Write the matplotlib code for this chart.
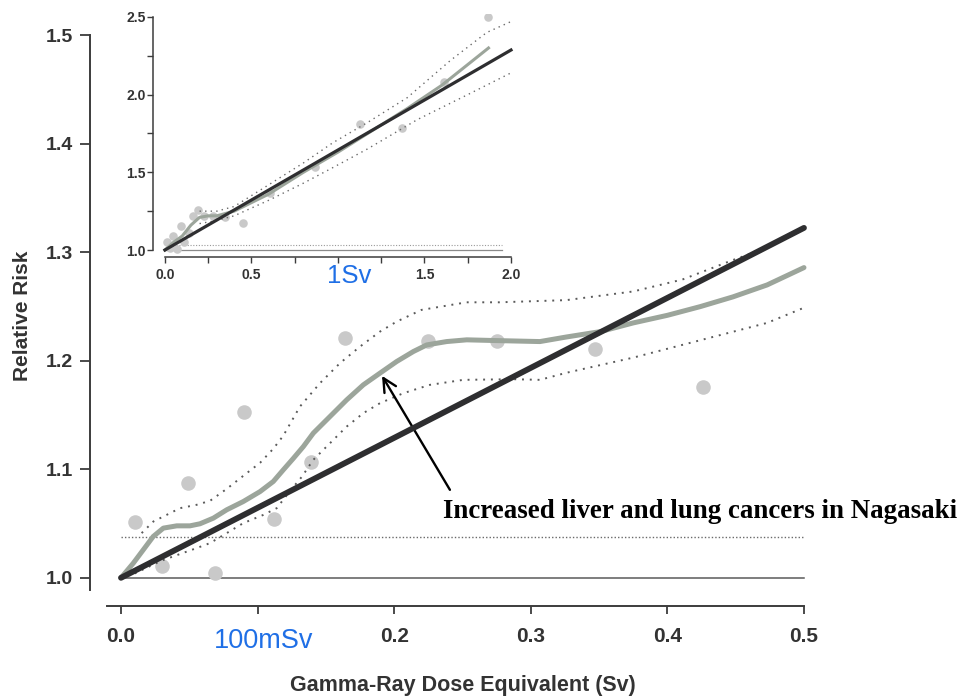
import matplotlib
matplotlib.use("Agg")
import matplotlib.pyplot as plt
from matplotlib.ticker import MultipleLocator

# main panel (0 - 0.5 Sv)
dose_pts = [0.010, 0.030, 0.049, 0.069, 0.090, 0.112, 0.139, 0.164, 0.225, 0.275, 0.347, 0.426]
rr_pts = [1.051, 1.011, 1.087, 1.004, 1.153, 1.054, 1.107, 1.221, 1.218, 1.218, 1.211, 1.176]

lin_x = [0.0, 0.5]
lin_y = [1.0, 1.3226]

fit_x = [0.0, 0.009, 0.0163, 0.0236, 0.031, 0.0408, 0.0505, 0.0578, 0.0676, 0.0774, 0.0895,
         0.1018, 0.1115, 0.1188, 0.1261, 0.1335, 0.1408, 0.153, 0.1652, 0.1774, 0.1896, 0.2018,
         0.214, 0.2238, 0.2384, 0.2531, 0.275, 0.3067, 0.326, 0.351, 0.375, 0.400, 0.424,
         0.448, 0.473, 0.5]
fit_y = [1.0, 1.0135, 1.0258, 1.0381, 1.0458, 1.0479, 1.0479, 1.0498, 1.055, 1.0627, 1.0703,
         1.0795, 1.0888, 1.0995, 1.110, 1.121, 1.1334, 1.1487, 1.164, 1.1779, 1.1887, 1.1994,
         1.2086, 1.2147, 1.2178, 1.2194, 1.2187, 1.2178, 1.222, 1.227, 1.235, 1.242, 1.250,
         1.259, 1.270, 1.286]

up_x = [0.0151, 0.0237, 0.0334, 0.0432, 0.0554, 0.0652, 0.0774, 0.0895, 0.1018, 0.1115, 0.1188,
        0.131, 0.1457, 0.1603, 0.175, 0.1896, 0.2018, 0.22, 0.253, 0.277, 0.326, 0.375, 0.411,
        0.448, 0.468, 0.5]
up_y = [1.0412, 1.0519, 1.058, 1.0642, 1.0673, 1.071, 1.082, 1.094, 1.106, 1.119, 1.131,
        1.1579, 1.1795, 1.1979, 1.2132, 1.227, 1.2362, 1.247, 1.254, 1.254, 1.256, 1.264, 1.275,
        1.293, 1.302, 1.322]

lo_x = [0.010, 0.030, 0.0554, 0.0652, 0.0774, 0.0895, 0.1042, 0.114, 0.1237, 0.1323, 0.1408,
        0.153, 0.1652, 0.1774, 0.1896, 0.2067, 0.2262, 0.2506, 0.2872, 0.3067, 0.326, 0.375,
        0.424, 0.473, 0.5]
lo_y = [1.004, 1.016, 1.0274, 1.032, 1.0412, 1.0504, 1.058, 1.0642, 1.080, 1.093, 1.1088,
        1.1241, 1.1394, 1.1518, 1.161, 1.1702, 1.1779, 1.1825, 1.1831, 1.1825, 1.189, 1.203,
        1.219, 1.235, 1.249]

# inset panel (0 - 2 Sv)
in_dose = [0.010, 0.030, 0.049, 0.069, 0.090, 0.112, 0.139, 0.164, 0.190, 0.225, 0.275,
           0.347, 0.450, 0.610, 0.867, 1.127, 1.370, 1.610, 1.870]
in_rr = [1.051, 1.011, 1.087, 1.004, 1.153, 1.054, 1.107, 1.221, 1.260, 1.218, 1.218,
         1.211, 1.176, 1.370, 1.534, 1.810, 1.785, 2.080, 2.500]

in_lin_x = [0.0, 2.0]
in_lin_y = [1.0, 2.287]

in_fit_x = [0.0, 0.05, 0.10, 0.15, 0.20, 0.25, 0.30, 0.40, 0.60, 0.80, 1.00, 1.20, 1.40, 1.60, 1.87]
in_fit_y = [1.0, 1.05, 1.09, 1.16, 1.21, 1.22, 1.22, 1.25, 1.36, 1.50, 1.63, 1.77, 1.91, 2.06, 2.30]

in_up_x = [0.20, 0.30, 0.40, 0.60, 0.80, 0.97, 1.17, 1.40, 1.65, 1.86, 2.0]
in_up_y = [1.25, 1.25, 1.28, 1.42, 1.56, 1.69, 1.82, 1.98, 2.22, 2.40, 2.47]
in_lo_x = [0.20, 0.30, 0.40, 0.60, 0.80, 0.97, 1.17, 1.46, 1.75, 2.0]
in_lo_y = [1.17, 1.19, 1.22, 1.32, 1.43, 1.53, 1.65, 1.84, 2.00, 2.14]

main_xticks = [0.0, 0.1, 0.2, 0.3, 0.4, 0.5]
main_xlabels = ["0.0", "", "0.2", "0.3", "0.4", "0.5"]
main_yticks = [1.0, 1.1, 1.2, 1.3, 1.4, 1.5]
in_xticks = [0.0, 0.5, 1.0, 1.5, 2.0]
in_xlabels = ["0.0", "0.5", "", "1.5", "2.0"]
in_yticks = [1.0, 1.5, 2.0, 2.5]

spine_c = "#3c3c3c"
txt_c = "#333333"
dot_c = "#c9c9c9"
fit_c = "#9ca59b"
line_c = "#2e2e30"
ci_c = "#5a5a5a"
blue = "#1f6fe6"
sans = "Liberation Sans"

fig = plt.figure(figsize=(9.58, 6.97), dpi=100)

ax = fig.add_axes([90 / 958, 91 / 697, 0.7524, 0.8341])
ax.set_facecolor("none")
ax.plot([0.0, 0.5], [1.0, 1.0], color="#5a5a5a", lw=1.1, zorder=1)
ax.plot([0.0, 0.5], [1.038, 1.038], color="#6a6a6a", lw=1.0, ls=(0, (1, 1.5)), zorder=1)
ax.scatter(dose_pts, rr_pts, s=110, color=dot_c, zorder=2, linewidths=0)
ax.plot(up_x, up_y, color=ci_c, lw=1.4, ls=(0, (1, 3)), zorder=3)
ax.plot(lo_x, lo_y, color=ci_c, lw=1.4, ls=(0, (1, 3)), zorder=3)
ax.plot(fit_x, fit_y, color=fit_c, lw=3.6, solid_capstyle="round", solid_joinstyle="round", zorder=4)
ax.plot(lin_x, lin_y, color=line_c, lw=4.2, solid_capstyle="round", zorder=5)

ax.set_xlim(-0.0227, 0.505)
ax.set_ylim(0.974, 1.51)
for s in ["top", "right"]:
    ax.spines[s].set_visible(False)
ax.spines["left"].set_bounds(0.989, 1.5)
ax.spines["bottom"].set_bounds(-0.01, 0.5)
for s in ["left", "bottom"]:
    ax.spines[s].set_color(spine_c)
    ax.spines[s].set_linewidth(1.4)
ax.set_xticks(main_xticks)
ax.set_xticklabels(main_xlabels, family=sans, fontsize=15, fontweight="bold", color=txt_c)
ax.set_yticks(main_yticks)
ax.set_yticklabels([f"{v:.1f}" for v in main_yticks], family=sans, fontsize=14,
                   fontweight="bold", color=txt_c)
ax.tick_params(axis="y", length=7, width=1.3, color=spine_c, pad=5)
ax.tick_params(axis="x", length=6, width=1.3, color=spine_c, pad=9)
ax.set_xlabel("Gamma-Ray Dose Equivalent (Sv)", family=sans, fontsize=15.5, fontweight="bold",
              color=txt_c)
ax.xaxis.set_label_coords((463 - 90) / 721, -(685 - 606) / 581)
ax.set_ylabel("Relative Risk", family=sans, fontsize=15, fontweight="bold", color=txt_c)
ax.yaxis.set_label_coords(-(90 - 22) / 721, 0.5)
ax.yaxis.label.set_va("center")
ax.xaxis.label.set_va("center")

ax.text(0.1047, 0.9535, "100mSv", family=sans, fontsize=19.5, color=blue, ha="center",
        va="top", clip_on=False)
ax.text(0.2357, 1.061, "Increased liver and lung cancers in Nagasaki",
        family="Liberation Serif", fontsize=19.4, fontweight="bold", color="black",
        ha="left", va="center", clip_on=False)
ax.annotate("", xy=(0.1911, 1.1862), xytext=(0.2408, 1.0811),
            arrowprops=dict(arrowstyle="->", color="black", lw=1.7, mutation_scale=24,
                            shrinkA=0, shrinkB=0))

# inset
ins = fig.add_axes([153 / 958, 440 / 697, 0.3773, 0.3489])
ins.set_facecolor("none")
ins.plot([0.0, 1.95], [1.0, 1.0], color="#8a8a8a", lw=0.9, zorder=1)
ins.plot([0.0, 1.95], [1.03, 1.03], color="#9a9a9a", lw=0.8, ls=(0, (1, 1.5)), zorder=1)
ins.scatter(in_dose, in_rr, s=38, color=dot_c, zorder=2, linewidths=0)
ins.plot(in_up_x, in_up_y, color="#6a6a6a", lw=1.0, ls=(0, (1, 3)), zorder=3)
ins.plot(in_lo_x, in_lo_y, color="#6a6a6a", lw=1.0, ls=(0, (1, 3)), zorder=3)
ins.plot(in_fit_x, in_fit_y, color=fit_c, lw=2.2, solid_joinstyle="round", zorder=4)
ins.plot(in_lin_x, in_lin_y, color=line_c, lw=2.3, zorder=5)
ins.set_xlim(-0.069, 2.02)
ins.set_ylim(0.955, 2.52)
for s in ["top", "right"]:
    ins.spines[s].set_visible(False)
ins.spines["left"].set_bounds(1.0, 2.5)
ins.spines["bottom"].set_bounds(0.0, 2.0)
for s in ["left", "bottom"]:
    ins.spines[s].set_color(spine_c)
    ins.spines[s].set_linewidth(1.1)
ins.set_xticks(in_xticks)
ins.set_xticklabels(in_xlabels, family=sans, fontsize=10, fontweight="bold", color=txt_c)
ins.set_yticks(in_yticks)
ins.set_yticklabels([f"{v:.1f}" for v in in_yticks], family=sans, fontsize=10,
                    fontweight="bold", color=txt_c)
ins.xaxis.set_minor_locator(MultipleLocator(0.25))
ins.yaxis.set_minor_locator(MultipleLocator(0.25))
ins.tick_params(which="both", length=4, width=1.0, color=spine_c)
ins.tick_params(axis="y", pad=1)
ins.tick_params(axis="x", pad=4)
ins.text(1.064, 0.91, "1Sv", family=sans, fontsize=18.5, color=blue, ha="center", va="top",
         clip_on=False)

fig.savefig("out.png", dpi=100)
